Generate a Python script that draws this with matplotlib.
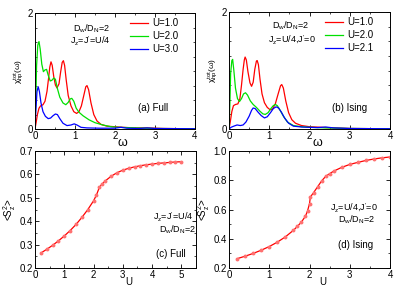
import matplotlib
matplotlib.use("Agg")
import matplotlib.pyplot as plt
from matplotlib.ticker import MultipleLocator

plt.rcParams['font.family'] = ['Liberation Sans', 'DejaVu Sans']
plt.rcParams['mathtext.fontset'] = 'custom'
plt.rcParams['mathtext.rm'] = 'Liberation Sans'
plt.rcParams['mathtext.it'] = 'Liberation Sans'

RED = '#ff0000'
GREEN = '#00e000'
BLUE = '#0000ff'

# panel (a): full Hund coupling
wa_r = [0.0, 0.03, 0.06, 0.1, 0.14, 0.2, 0.25, 0.3, 0.34, 0.37, 0.4, 0.43, 0.47, 0.51, 0.55, 0.6, 0.64,
        0.68, 0.71, 0.74, 0.78, 0.83, 0.9, 0.97, 1.04, 1.1, 1.16, 1.22, 1.27, 1.3, 1.34, 1.4, 1.47,
        1.55, 1.65, 1.8, 2.0, 2.2, 2.5, 2.8, 3.2, 4.0]
ca_r = [0.0, 0.12, 0.25, 0.36, 0.40, 0.42, 0.48, 0.65, 0.88, 1.07, 1.16, 1.10, 0.90, 0.76, 0.71, 0.78, 0.98,
        1.15, 1.18, 1.10, 0.85, 0.58, 0.40, 0.30, 0.27, 0.30, 0.40, 0.58, 0.73, 0.75, 0.68, 0.45, 0.25,
        0.14, 0.08, 0.05, 0.04, 0.03, 0.02, 0.02, 0.01, 0.005]
wa_g = [0.0, 0.02, 0.04, 0.07, 0.1, 0.13, 0.17, 0.21, 0.25, 0.29, 0.33, 0.38, 0.42, 0.47, 0.51, 0.56, 0.62,
        0.7, 0.77, 0.83, 0.88, 0.92, 0.97, 1.03, 1.1, 1.2, 1.35, 1.5, 1.7, 1.9, 2.1, 2.5, 3.0, 4.0]
ca_g = [0.0, 0.5, 1.1, 1.45, 1.51, 1.38, 1.12, 0.99, 1.02, 1.03, 0.93, 0.83, 0.84, 0.88, 0.86, 0.70, 0.55,
        0.45, 0.42, 0.46, 0.52, 0.53, 0.48, 0.36, 0.29, 0.23, 0.16, 0.11, 0.07, 0.04, 0.03, 0.02, 0.01, 0.005]
wa_b = [0.0, 0.02, 0.05, 0.08, 0.11, 0.15, 0.2, 0.26, 0.33, 0.39, 0.45, 0.51, 0.56, 0.62, 0.7, 0.8, 0.9,
        0.98, 1.05, 1.15, 1.3, 1.6, 2.0, 2.15, 2.3, 2.6, 2.8, 3.0, 4.0]
ca_b = [0.0, 0.3, 0.65, 0.73, 0.65, 0.45, 0.30, 0.22, 0.18, 0.19, 0.23, 0.26, 0.25, 0.18, 0.10, 0.06, 0.07,
        0.09, 0.07, 0.03, 0.02, 0.015, 0.015, 0.03, 0.015, 0.01, 0.02, 0.01, 0.005]

# panel (b): Ising coupling
wb_r = [0.0, 0.03, 0.07, 0.11, 0.16, 0.22, 0.27, 0.31, 0.35, 0.38, 0.4, 0.43, 0.47, 0.52, 0.56, 0.6, 0.64,
        0.68, 0.7, 0.73, 0.77, 0.82, 0.88, 0.95, 1.02, 1.08, 1.15, 1.22, 1.28, 1.31, 1.35, 1.41, 1.48,
        1.56, 1.65, 1.8, 2.0, 2.3, 2.6, 3.0, 4.0]
cb_r = [0.0, 0.12, 0.30, 0.40, 0.42, 0.43, 0.52, 0.75, 1.02, 1.18, 1.23, 1.18, 0.98, 0.79, 0.73, 0.80, 1.02,
        1.16, 1.17, 1.10, 0.85, 0.60, 0.45, 0.37, 0.33, 0.34, 0.43, 0.60, 0.74, 0.76, 0.70, 0.48, 0.28,
        0.16, 0.10, 0.06, 0.04, 0.03, 0.02, 0.01, 0.005]
wb_g = [0.0, 0.02, 0.04, 0.07, 0.09, 0.12, 0.16, 0.21, 0.26, 0.31, 0.36, 0.41, 0.46, 0.53, 0.6, 0.68, 0.76,
        0.84, 0.9, 0.97, 1.04, 1.1, 1.15, 1.2, 1.27, 1.35, 1.45, 1.6, 1.8, 2.0, 2.4, 3.0, 4.0]
cb_g = [0.0, 0.4, 0.95, 1.17, 1.19, 1.0, 0.70, 0.52, 0.47, 0.52, 0.60, 0.62, 0.58, 0.48, 0.42, 0.37, 0.31,
        0.26, 0.25, 0.28, 0.35, 0.40, 0.42, 0.40, 0.32, 0.22, 0.12, 0.06, 0.04, 0.03, 0.02, 0.01, 0.005]
wb_b = [0.0, 0.05, 0.12, 0.2, 0.28, 0.35, 0.42, 0.5, 0.56, 0.6, 0.65, 0.72, 0.8, 0.88, 0.95, 1.03, 1.1,
        1.17, 1.23, 1.3, 1.38, 1.48, 1.6, 1.8, 2.0, 2.2, 2.4, 2.6, 3.0, 4.0]
cb_b = [0.0, 0.03, 0.05, 0.07, 0.06, 0.07, 0.12, 0.22, 0.32, 0.36, 0.35, 0.29, 0.23, 0.19, 0.21, 0.28, 0.35,
        0.38, 0.36, 0.29, 0.19, 0.10, 0.05, 0.035, 0.03, 0.025, 0.035, 0.02, 0.01, 0.005]

# panel (c): <Sz^2> vs U, full
uc = [0.2, 0.4, 0.6, 0.8, 1.0, 1.2, 1.4, 1.6, 1.8, 2.0, 2.1, 2.2, 2.3, 2.4, 2.6, 2.8, 3.0, 3.2, 3.4,
      3.6, 3.8, 4.0, 4.2, 4.4, 4.6, 4.8, 5.0]
sc = [0.264, 0.280, 0.297, 0.316, 0.337, 0.360, 0.386, 0.416, 0.449, 0.487, 0.512, 0.545, 0.560, 0.572,
      0.592, 0.607, 0.618, 0.626, 0.632, 0.637, 0.641, 0.644, 0.647, 0.649, 0.651, 0.653, 0.654]

# panel (d): <Sz^2> vs U, Ising
ud = [0.2, 0.4, 0.6, 0.8, 1.0, 1.2, 1.4, 1.6, 1.7, 1.8, 1.9, 1.95, 2.0, 2.02, 2.1, 2.2, 2.3, 2.4, 2.5,
      2.6, 2.8, 3.0, 3.2, 3.4, 3.6, 3.8, 4.0]
sd = [0.264, 0.281, 0.300, 0.322, 0.347, 0.377, 0.413, 0.458, 0.485, 0.515, 0.555, 0.590, 0.640, 0.685,
      0.715, 0.755, 0.795, 0.826, 0.845, 0.862, 0.888, 0.908, 0.922, 0.935, 0.945, 0.953, 0.959]

FS = 7
TFS = 6.5

fig = plt.figure(figsize=(3.99, 2.92), dpi=100)
ax_a = fig.add_axes([0.0877, 0.558, 0.401, 0.397])
ax_b = fig.add_axes([0.574, 0.558, 0.4035, 0.401])
ax_c = fig.add_axes([0.0877, 0.082, 0.4035, 0.401])
ax_d = fig.add_axes([0.574, 0.082, 0.4035, 0.401])


def style(ax):
    ax.tick_params(which='both', direction='in', top=True, right=True, labelsize=FS, pad=1.5)
    ax.tick_params(which='major', length=3, width=0.6)
    ax.tick_params(which='minor', length=1.6, width=0.5)
    for s in ax.spines.values():
        s.set_linewidth(0.7)


lw = 0.9
for ax, data, labels in [
    (ax_a, [(wa_r, ca_r, RED), (wa_g, ca_g, GREEN), (wa_b, ca_b, BLUE)], ['U=1.0', 'U=2.0', 'U=3.0']),
    (ax_b, [(wb_r, cb_r, RED), (wb_g, cb_g, GREEN), (wb_b, cb_b, BLUE)], ['U=1.0', 'U=2.0', 'U=2.1']),
]:
    for (x, y, c), lab in zip(data, labels):
        ax.plot(x, y, color=c, lw=lw, label=lab)
    ax.set_xlim(0, 4)
    ax.set_ylim(0, 2)
    ax.set_xticks([0, 1, 2, 3, 4])
    ax.set_yticks([0, 2])
    ax.xaxis.set_minor_locator(MultipleLocator(0.5))
    ax.yaxis.set_minor_locator(MultipleLocator(0.25))
    style(ax)
    ax.set_ylabel(r'$\chi_{hp}^{tot}(\omega)$', fontsize=6, labelpad=2)
    ax.set_xlabel(r'$\omega$', fontsize=9, labelpad=-3)
    ax.xaxis.set_label_coords(0.55, -0.07)
    ax.legend(loc='upper left', bbox_to_anchor=(0.594, 0.955), frameon=False, fontsize=FS,
              handlelength=1.85, handletextpad=0.45, labelspacing=0.3, borderaxespad=0, borderpad=0)

ax_a.text(0.95, 1.69, r'D$_w$/D$_N$=2', fontsize=TFS, va='baseline')
ax_a.text(0.875, 1.46, r"J$_z$=J$'$=U/4", fontsize=TFS, va='baseline')
ax_a.text(2.57, 0.31, '(a) Full', fontsize=FS, va='baseline')

ax_b.text(1.07, 1.71, r'D$_w$/D$_N$=2', fontsize=TFS, va='baseline')
ax_b.text(0.97, 1.48, r"J$_z$=U/4,J$'$=0", fontsize=TFS, va='baseline')
ax_b.text(2.56, 0.31, '(b) Ising', fontsize=FS, va='baseline')

ax_c.plot(uc, sc, color=RED, lw=lw, marker='o', ms=1.8, mfc='#ff7070', mec='#ff7070')
ax_c.set_xlim(0, 5.5)
ax_c.set_ylim(0.2, 0.7)
ax_c.set_xticks([0, 1, 2, 3, 4, 5])
ax_c.set_yticks([0.2, 0.3, 0.4, 0.5, 0.6, 0.7])
ax_c.xaxis.set_minor_locator(MultipleLocator(0.5))
ax_c.yaxis.set_minor_locator(MultipleLocator(0.05))
style(ax_c)
ax_c.set_ylabel(r'<S$_z^2$>', fontsize=FS, labelpad=1)
ax_c.set_xlabel('U', fontsize=FS, labelpad=0)
ax_c.xaxis.set_label_coords(0.58, -0.08)
ax_c.text(4.04, 0.402, r"J$_z$=J$'$=U/4", fontsize=TFS, va='baseline')
ax_c.text(4.23, 0.352, r'D$_w$/D$_N$=2', fontsize=TFS, va='baseline')
ax_c.text(4.15, 0.247, '(c) Full', fontsize=FS, va='baseline')

ax_d.plot(ud, sd, color=RED, lw=lw, marker='o', ms=1.8, mfc='#ff7070', mec='#ff7070')
ax_d.set_xlim(0, 4)
ax_d.set_ylim(0.2, 1.0)
ax_d.set_xticks([0, 1, 2, 3, 4])
ax_d.set_yticks([0.2, 0.4, 0.6, 0.8, 1.0])
ax_d.xaxis.set_minor_locator(MultipleLocator(0.5))
ax_d.yaxis.set_minor_locator(MultipleLocator(0.1))
style(ax_d)
ax_d.set_ylabel(r'<S$_z^2$>', fontsize=FS, labelpad=1)
ax_d.set_xlabel('U', fontsize=FS, labelpad=0)
ax_d.xaxis.set_label_coords(0.58, -0.08)
ax_d.text(2.51, 0.59, r"J$_z$=U/4,J$'$=0", fontsize=TFS, va='baseline')
ax_d.text(2.71, 0.508, r'D$_w$/D$_N$=2', fontsize=TFS, va='baseline')
ax_d.text(2.71, 0.337, '(d) Ising', fontsize=FS, va='baseline')

fig.savefig('out.png', dpi=100)
